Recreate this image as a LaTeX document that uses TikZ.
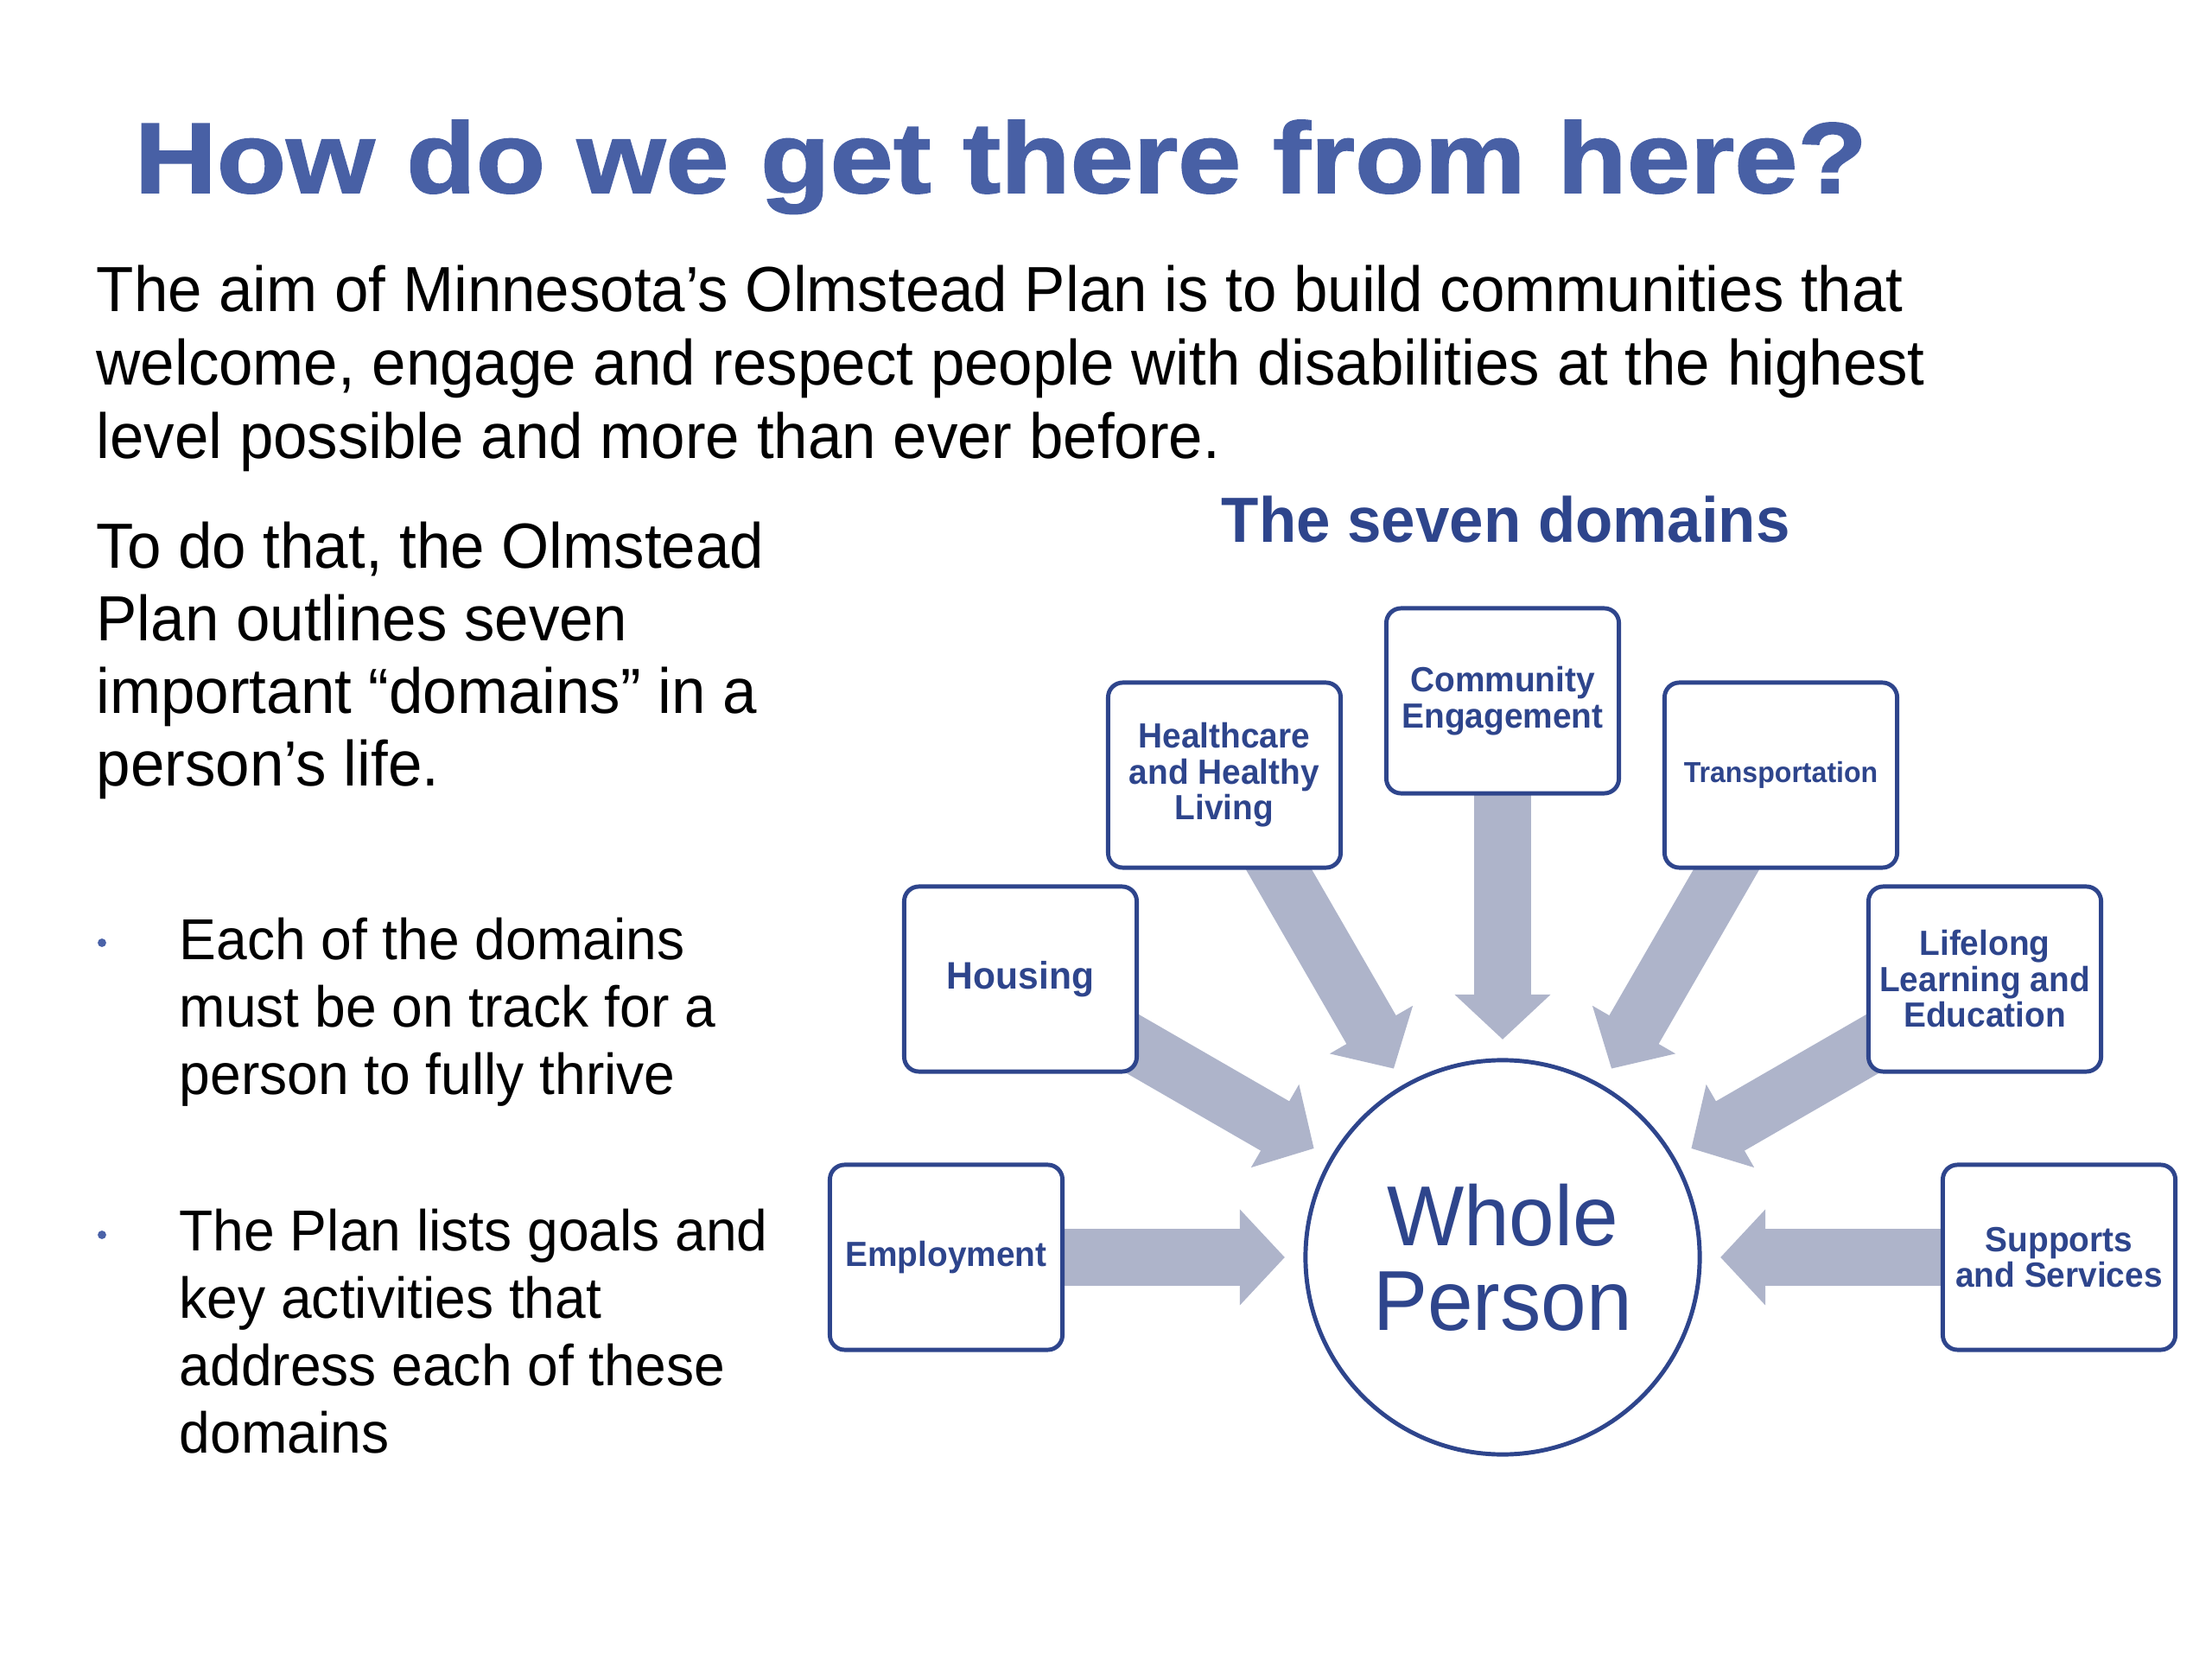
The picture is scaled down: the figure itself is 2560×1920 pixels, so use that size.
\documentclass[tikz,border=0pt]{standalone}
\usepackage{fontspec}
\setmainfont{Liberation Sans}[FakeStretch=0.96]
\newfontfamily\titlefont{Liberation Sans Bold}[FakeStretch=1.135,FakeBold=1.5]
\usetikzlibrary{arrows.meta,backgrounds}

\definecolor{navy}{RGB}{46,69,140}
\definecolor{titleblue}{RGB}{72,96,165}
\definecolor{flowgray}{RGB}{174,180,202}
\definecolor{dotblue}{RGB}{74,98,168}

\tikzset{
  textblock/.style={anchor=base west, inner sep=0pt, align=left},
  domainbox/.style={draw=navy, line width=1.4pt, rounded corners=0.17cm, fill=white,
    minimum width=2.69cm, minimum height=2.14cm, inner sep=0pt, align=center,
    text=navy, font=\bfseries\fontsize{11.5}{11.8}\selectfont},
  hub/.style={circle, draw=navy, line width=1.4pt, fill=white, minimum size=4.56cm,
    inner sep=0pt, align=center, text=navy, font=\fontsize{28}{27.9}\selectfont},
  flowarrow/.style={draw=flowgray, line width=0.66cm, shorten >=0.215cm,
    -{Triangle[width=1.08cm,length=0.52cm]}}
}

\begin{document}
\begin{tikzpicture}[x=0.01cm, y=0.01cm]
    \useasboundingbox (0,0) rectangle (2560,1920);

    % heading and left column (multi-line blocks sit on their last baseline)
    \node[textblock, text=titleblue, font=\titlefont\fontsize{33}{36}\selectfont] (title) at (155,1697) {How do we get there from here?};
    \node[textblock, font=\fontsize{21}{24.2}\selectfont] (aim) at (111,1389) {The aim of Minnesota’s Olmstead Plan is to build communities that\\welcome, engage and respect people with disabilities at the highest\\level possible and more than ever before.};
    \node[textblock, font=\fontsize{21}{23.9}\selectfont] (todo) at (111,1010) {To do that, the Olmstead\\Plan outlines seven\\important “domains” in a\\person’s life.};
    \fill[dotblue] (118,829) circle (1.4pt);
    \node[textblock, font=\fontsize{19}{22.1}\selectfont] (thrive) at (207,654) {Each of the domains\\must be on track for a\\person to fully thrive};
    \fill[dotblue] (118,491) circle (1.4pt);
    \node[textblock, font=\fontsize{19}{22.1}\selectfont] (goals) at (207,239) {The Plan lists goals and\\key activities that\\address each of these\\domains};

    % the seven domains
    \node[textblock, text=navy, font=\bfseries\fontsize{21}{24}\selectfont] (seven) at (1413,1292) {The seven domains};
    \node[hub] (whole) at (1739,465) {Whole\\Person};
    \node[domainbox] (employ) at (1095,465) {Employment};
    \node[domainbox, font=\bfseries\fontsize{12.6}{13}\selectfont] (housing) at (1181,787) {Housing};
    \node[domainbox] (health) at (1417,1023) {Healthcare\\and Healthy\\Living};
    \node[domainbox] (commun) at (1739,1109) {Community\\Engagement};
    \node[domainbox, font=\bfseries\fontsize{9.5}{10}\selectfont] (transp) at (2061,1023) {Transportation};
    \node[domainbox] (learn) at (2297,787) {Lifelong\\Learning and\\Education};
    \node[domainbox] (support) at (2383,465) {Supports\\and Services};

    % arrows run under the boxes
    \begin{scope}[on background layer]
        \draw[flowarrow] (employ.center) -- (whole);
        \draw[flowarrow] (housing.center) -- (whole);
        \draw[flowarrow] (health.center) -- (whole);
        \draw[flowarrow] (commun.center) -- (whole);
        \draw[flowarrow] (transp.center) -- (whole);
        \draw[flowarrow] (learn.center) -- (whole);
        \draw[flowarrow] (support.center) -- (whole);
    \end{scope}
\end{tikzpicture}
\end{document}
